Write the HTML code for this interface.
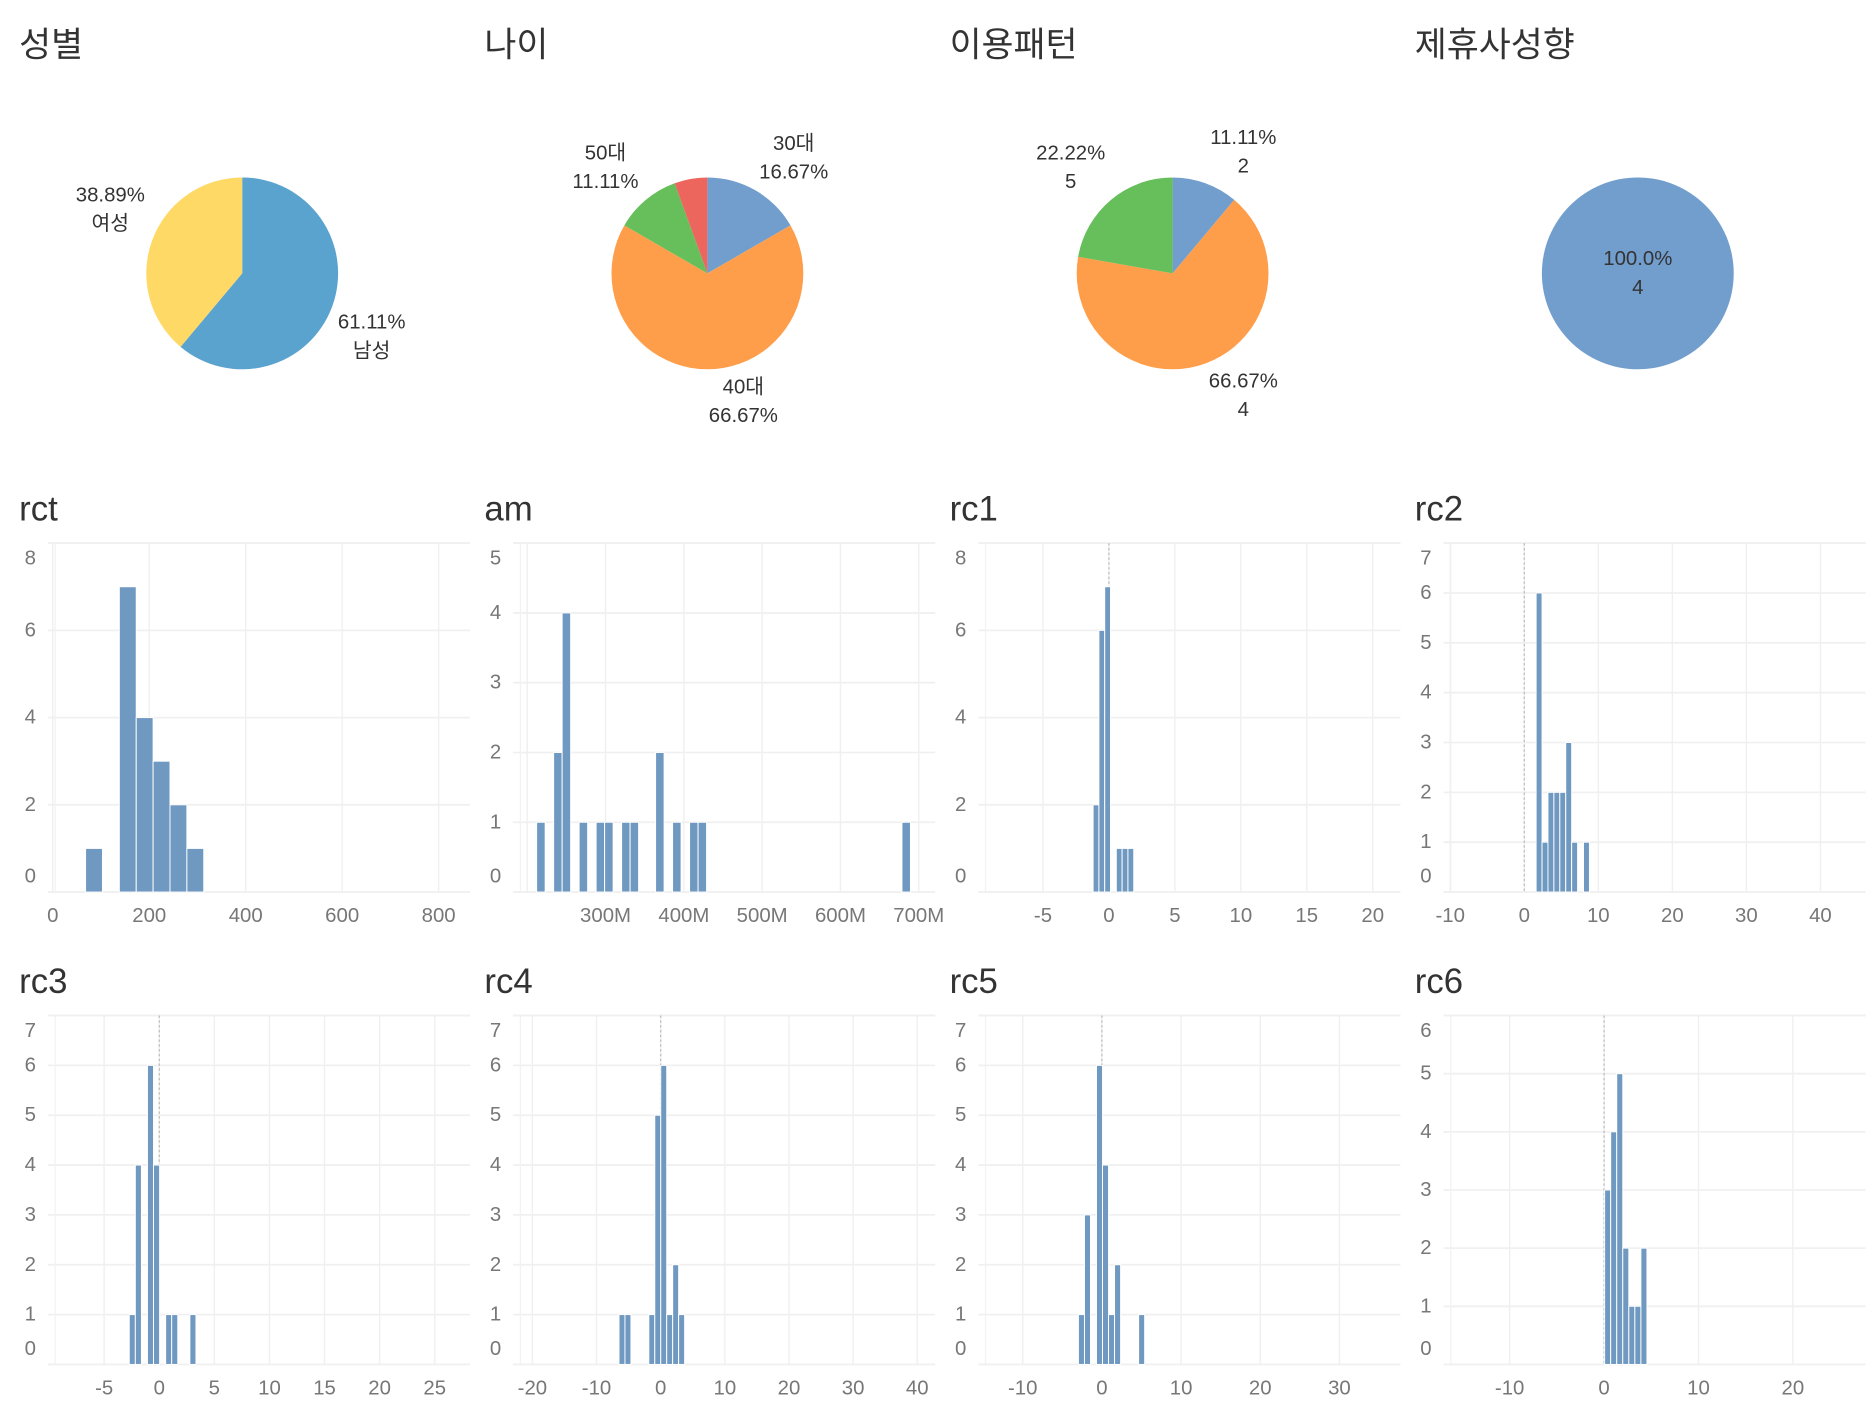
<!DOCTYPE html>
<html><head><meta charset="utf-8">
<style>
html,body{margin:0;padding:0;background:#fff;}
svg{display:block;}
text{font-family:"Liberation Sans","Noto Sans CJK KR",sans-serif;}
</style></head>
<body>
<svg id="root" xmlns="http://www.w3.org/2000/svg" width="1874" height="1410" viewBox="0 0 1563 1176" preserveAspectRatio="none"></svg>
<script>
// ---------- Pie data ----------
const pieTitles = ["성별","나이","이용패턴","제휴사성향"];
const genderValues = [61.11, 38.89];
const genderLabels = ["남성","여성"];
const ageValues = [16.67, 66.67, 11.11, 5.55];
const ageLabels = ["30대","40대","50대",""];
const usageValues = [11.11, 66.67, 22.22];
const usageCounts = ["2","4","5"];
const partnerValues = [100.0];
const partnerCounts = ["4"];

// ---------- Histogram data ----------
const histTitles = ["rct","am","rc1","rc2","rc3","rc4","rc5","rc6"];
const rctBinStart = 68, rctBinWidth = 35;
const rctCounts = [1,0,7,4,3,2,1];
const amBinStart = 212, amBinWidth = 10.85;
const amCounts = [1,0,2,4,0,1,0,1,1,0,1,1,0,0,2,0,1,0,1,1,0,0,0,0,0,0,0,0,0,0,0,0,0,0,0,0,0,0,0,0,0,0,0,1];
const rc1BinStart = -1.2, rc1BinWidth = 0.44;
const rc1Counts = [2,6,7,0,1,1,1];
const rc2BinStart = 1.6, rc2BinWidth = 0.8;
const rc2Counts = [6,1,2,2,2,3,1,0,1];
const rc3BinStart = -2.72, rc3BinWidth = 0.55;
const rc3Counts = [1,4,0,6,4,0,1,1,0,0,1];
const rc4BinStart = -6.5, rc4BinWidth = 0.93;
const rc4Counts = [1,1,0,0,0,1,5,6,1,2,1];
const rc5BinStart = -2.96, rc5BinWidth = 0.76;
const rc5Counts = [1,3,0,6,4,1,2,0,0,0,1];
const rc6BinStart = 0.06, rc6BinWidth = 0.64;
const rc6Counts = [3,4,5,2,1,1,2];

const rctXTicks = [0,200,400,600,800];
const rctXTickLabels = ["0","200","400","600","800"];
const amXTicks = [200,300,400,500,600,700];
const amXTickLabels = ["","300M","400M","500M","600M","700M"];
const rc1XTicks = [-5,0,5,10,15,20];
const rc2XTicks = [-10,0,10,20,30,40];
const rc3XTicks = [-5,0,5,10,15,20,25];
const rc4XTicks = [-20,-10,0,10,20,30,40];
const rc5XTicks = [-10,0,10,20,30];
const rc6XTicks = [-10,0,10,20];
const rctYTicks = [0,2,4,6,8];
const amYTicks = [0,1,2,3,4,5];
const rc1YTicks = [0,2,4,6,8];
const rc2YTicks = [0,1,2,3,4,5,6,7];
const rc3YTicks = [0,1,2,3,4,5,6,7];
const rc4YTicks = [0,1,2,3,4,5,6,7];
const rc5YTicks = [0,1,2,3,4,5,6,7];
const rc6YTicks = [0,1,2,3,4,5,6];

const NS = "http://www.w3.org/2000/svg";
const root = document.getElementById('root');
function mk(tag, attrs, parent){
  const e = document.createElementNS(NS, tag);
  for (const k in attrs) e.setAttribute(k, attrs[k]);
  (parent||root).appendChild(e);
  return e;
}
function txt(s, x, y, size, color, anchor, parent){
  const t = mk('text', {x:x, y:y, 'font-size':size, fill:color, 'text-anchor':anchor||'start', 'dominant-baseline':'central'}, parent);
  t.textContent = s;
  return t;
}

// ---------- Pies ----------
const colX = [16, 404, 792, 1180];
pieTitles.forEach((t,i)=>{
  const e = txt(t, colX[i], 38, 29, '#333', 'start');
  
  
});

function drawPie(cx, cy, r, values, colors, name){
  const g = mk('g', {});
  
  
  const total = values.reduce((a,b)=>a+b,0);
  let a0 = 0;
  values.forEach((v,i)=>{
    const a1 = a0 + v/total*2*Math.PI;
    let el;
    if (v/total >= 0.9999){
      el = mk('circle', {cx:cx, cy:cy, r:r, fill:colors[i]}, g);
    } else {
      const x0 = cx + r*Math.sin(a0), y0 = cy - r*Math.cos(a0);
      const x1 = cx + r*Math.sin(a1), y1 = cy - r*Math.cos(a1);
      const large = (a1-a0) > Math.PI ? 1 : 0;
      el = mk('path', {d:`M${cx},${cy} L${x0},${y0} A${r},${r} 0 ${large} 1 ${x1},${y1} Z`, fill:colors[i]}, g);
    }
    
    
    a0 = a1;
  });
}
function pieLabel(lines, x, y, name){
  const g = mk('g', {});
  
  
  lines.forEach((l,k)=>txt(l, x, y + k*24, 17, '#333', 'middle', g));
}
drawPie(202, 228, 80, genderValues, ['#5BA3CF','#FFD966'], 'gender-pie');
pieLabel([genderValues[1].toFixed(2)+'%', genderLabels[1]], 92, 163, 'gender-label-female');
pieLabel([genderValues[0].toFixed(2)+'%', genderLabels[0]], 310, 269, 'gender-label-male');

drawPie(590, 228, 80, ageValues, ['#729ECE','#FF9E4A','#67BF5C','#ED665D'], 'age-pie');
pieLabel([ageLabels[0], ageValues[0].toFixed(2)+'%'], 662, 120, 'age-label-30s');
pieLabel([ageLabels[1], ageValues[1].toFixed(2)+'%'], 620, 323, 'age-label-40s');
pieLabel([ageLabels[2], ageValues[2].toFixed(2)+'%'], 505, 128, 'age-label-50s');

drawPie(978, 228, 80, usageValues, ['#729ECE','#FF9E4A','#67BF5C'], 'usage-pie');
pieLabel([usageValues[0].toFixed(2)+'%', usageCounts[0]], 1037, 115, 'usage-label-1');
pieLabel([usageValues[1].toFixed(2)+'%', usageCounts[1]], 1037, 318, 'usage-label-2');
pieLabel([usageValues[2].toFixed(2)+'%', usageCounts[2]], 893, 128, 'usage-label-3');

drawPie(1366, 228, 80, partnerValues, ['#729ECE'], 'partner-pie');
pieLabel([partnerValues[0].toFixed(1)+'%', partnerCounts[0]], 1366, 216, 'partner-label');

// ---------- Histograms ----------
const hists = [
  {name:'rct', px:40, py:453, xmin:-10, xmax:865, ymax:8, start:rctBinStart, w:rctBinWidth, counts:rctCounts, xt:rctXTicks, xl:rctXTickLabels, yt:rctYTicks, zero:false},
  {name:'am', px:428, py:453, xmin:182, xmax:721, ymax:5, start:amBinStart, w:amBinWidth, counts:amCounts, xt:amXTicks, xl:amXTickLabels, yt:amYTicks, zero:false},
  {name:'rc1', px:816, py:453, xmin:-9.9, xmax:22.1, ymax:8, start:rc1BinStart, w:rc1BinWidth, counts:rc1Counts, xt:rc1XTicks, xl:null, yt:rc1YTicks, zero:true},
  {name:'rc2', px:1204, py:453, xmin:-10.9, xmax:46.1, ymax:7, start:rc2BinStart, w:rc2BinWidth, counts:rc2Counts, xt:rc2XTicks, xl:null, yt:rc2YTicks, zero:true},
  {name:'rc3', px:40, py:847, xmin:-10.1, xmax:28.2, ymax:7, start:rc3BinStart, w:rc3BinWidth, counts:rc3Counts, xt:rc3XTicks, xl:null, yt:rc3YTicks, zero:true},
  {name:'rc4', px:428, py:847, xmin:-23, xmax:42.8, ymax:7, start:rc4BinStart, w:rc4BinWidth, counts:rc4Counts, xt:rc4XTicks, xl:null, yt:rc4YTicks, zero:true},
  {name:'rc5', px:816, py:847, xmin:-15.6, xmax:37.7, ymax:7, start:rc5BinStart, w:rc5BinWidth, counts:rc5Counts, xt:rc5XTicks, xl:null, yt:rc5YTicks, zero:true},
  {name:'rc6', px:1204, py:847, xmin:-17, xmax:27.7, ymax:6, start:rc6BinStart, w:rc6BinWidth, counts:rc6Counts, xt:rc6XTicks, xl:null, yt:rc6YTicks, zero:true}
];
const PW = 352, PH = 291;
hists.forEach((h,hi)=>{
  const g = mk('g', {});
  
  
  const titleY = h.py - 28;
  const t = txt(histTitles[hi], h.px - 24, titleY, 29, '#333', 'start', g);
  
  
  const X = v => h.px + (v - h.xmin) / (h.xmax - h.xmin) * PW;
  const Y = v => h.py + PH - v / h.ymax * PH;
  // gridlines
  h.yt.forEach(v=>{
    const l = mk('line', {x1:h.px, x2:h.px+PW, y1:Y(v), y2:Y(v), stroke:'#f0f0f0', 'stroke-width':1.5}, g);
    
    
    let ly = Y(v);
    ly = Math.max(h.py + 13, Math.min(h.py + PH - 13, ly));
    const lt = txt(String(v), h.px - 10, ly, 17, '#777', 'end', g);
    
    
  });
  mk('line', {x1:h.px, x2:h.px+PW, y1:h.py, y2:h.py, stroke:'#f0f0f0', 'stroke-width':1.5}, g);
  mk('line', {x1:h.px+6, x2:h.px+6, y1:h.py, y2:h.py+PH, stroke:'#f2f2f2', 'stroke-width':1}, g);
  h.xt.forEach((v,k)=>{
    const l = mk('line', {x1:X(v), x2:X(v), y1:h.py, y2:h.py+PH, stroke:'#f0f0f0', 'stroke-width':1.2}, g);
    
    
    const s = h.xl ? h.xl[k] : String(v);
    if (s){
      const lt = txt(s, X(v), h.py + PH + 20, 17, '#777', 'middle', g);
      
      
    }
  });
  if (h.zero){
    const z = mk('line', {x1:X(0), x2:X(0), y1:h.py, y2:h.py+PH, stroke:'#bbb', 'stroke-width':1, 'stroke-dasharray':'2,2'}, g);
    
    
  }
  h.counts.forEach((c,i)=>{
    if (!c) return;
    const x0 = X(h.start + i*h.w), x1 = X(h.start + (i+1)*h.w);
    const b = mk('rect', {x:x0, y:Y(c), width:x1-x0, height:Y(0)-Y(c), fill:'#7099C1', stroke:'#fff', 'stroke-width':0.8}, g);
    
    
  });
});
</script>
</body></html>
